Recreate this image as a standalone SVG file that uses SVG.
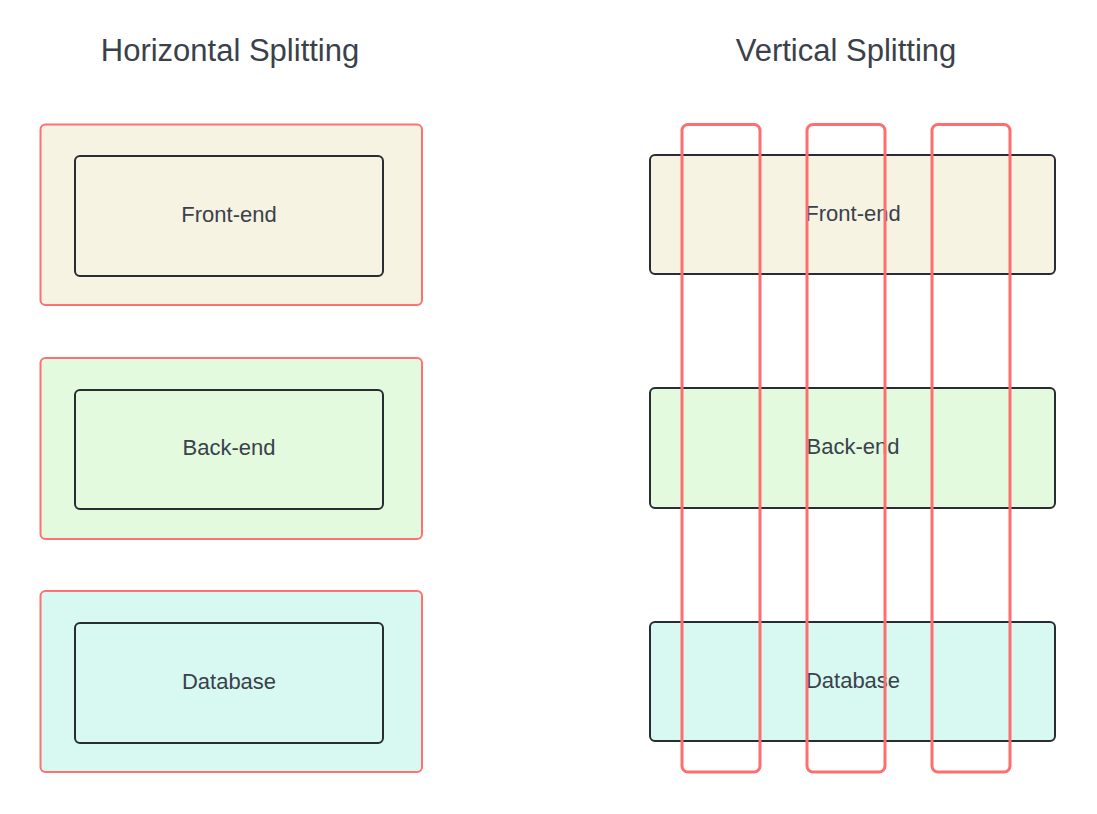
<svg xmlns="http://www.w3.org/2000/svg" width="1097" height="814" viewBox="0 0 1097 814">
<style>
.title{font-family:"Liberation Sans",Arial,sans-serif;font-size:31px;fill:#3a414a;text-anchor:middle}
.lbl{font-family:"Liberation Sans",Arial,sans-serif;font-size:22px;fill:#3a414a;text-anchor:middle}
.outer{stroke:#ff7070;stroke-width:2;}
.inner{stroke:#282c33;stroke-width:2;}
.col{fill:none;stroke:#ff6e6e;stroke-width:3}
.fe{fill:#f6f3e3}.be{fill:#e3fadf}.db{fill:#d7f9f2}
</style>
<rect width="1097" height="814" fill="#fff"/>
<text class="title" x="230" y="61">Horizontal Splitting</text>
<text class="title" x="846" y="61">Vertical Splitting</text>
<g id="h-frontend">
<rect class="outer fe" x="40.5" y="124.5" width="381.5" height="180.5" rx="5"/>
<rect class="inner fe" x="75" y="156" width="308" height="120" rx="5"/>
<text class="lbl" x="229" y="222">Front-end</text>
</g>
<g id="h-backend">
<rect class="outer be" x="40.5" y="358" width="381.5" height="181" rx="5"/>
<rect class="inner be" x="75" y="390" width="308" height="119" rx="5"/>
<text class="lbl" x="229" y="455">Back-end</text>
</g>
<g id="h-database">
<rect class="outer db" x="40.5" y="591" width="381.5" height="181" rx="5"/>
<rect class="inner db" x="75" y="623" width="308" height="120" rx="5"/>
<text class="lbl" x="229" y="689">Database</text>
</g>
<g id="v-frontend">
<rect class="inner fe" x="650" y="155" width="405" height="119" rx="5"/>
<text class="lbl" x="853" y="221">Front-end</text>
</g>
<g id="v-backend">
<rect class="inner be" x="650" y="388" width="405" height="120" rx="5"/>
<text class="lbl" x="853" y="454">Back-end</text>
</g>
<g id="v-database">
<rect class="inner db" x="650" y="622" width="405" height="119" rx="5"/>
<text class="lbl" x="853" y="688">Database</text>
</g>
<g id="v-columns">
<rect class="col" x="682" y="124.5" width="78" height="647.5" rx="6"/>
<rect class="col" x="807" y="124.5" width="78" height="647.5" rx="6"/>
<rect class="col" x="932" y="124.5" width="78" height="647.5" rx="6"/>
</g>
</svg>
